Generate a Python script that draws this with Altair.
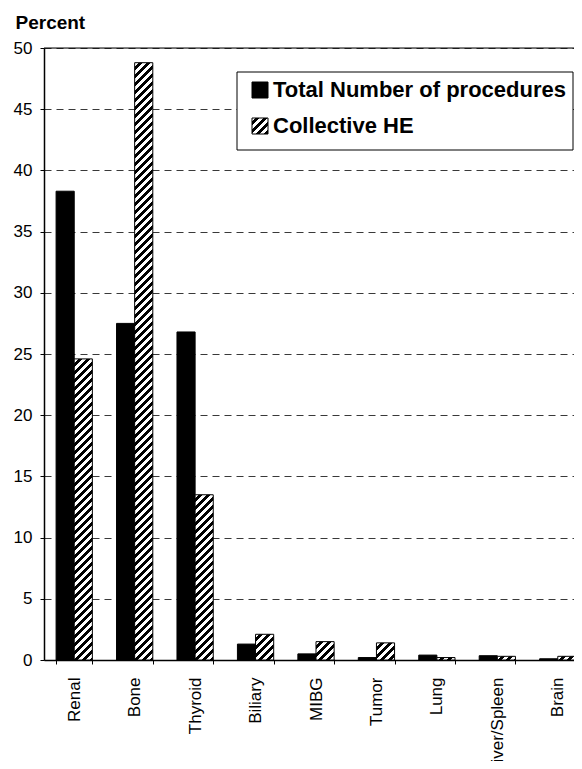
import altair as alt
import pandas as pd

# ---- data ----
categories = ["Renal", "Bone", "Thyroid", "Biliary", "MIBG", "Tumor", "Lung", "Liver/Spleen", "Brain"]
total_procedures = [38.3, 27.5, 26.8, 1.3, 0.5, 0.2, 0.4, 0.35, 0.1]
collective_he = [24.6, 48.8, 13.5, 2.1, 1.5, 1.4, 0.2, 0.3, 0.3]
series_names = ["Total Number of procedures", "Collective HE"]
y_ticks = [0, 5, 10, 15, 20, 25, 30, 35, 40, 45, 50]

# ---- layout / style ----
FONT = "Liberation Sans"
PAD_L, PAD_T, PAD_B = 36, 40, 101
W, H = 530, 612
X_RANGE = 544
Y_MAX = 50
STEP = X_RANGE / len(categories)
BAR_W = STEP * 0.6 / 2
PERIOD = 8.0      # hatch period (x+y units, px)
BLACK_FRAC = 0.5  # share of each period that is black

rows = []
for c, a, b in zip(categories, total_procedures, collective_he):
    rows.append({"category": c, "series": series_names[0], "value": a})
    rows.append({"category": c, "series": series_names[1], "value": b})
df = pd.DataFrame(rows)


def hatch(w, h):
    """Diagonal '/' stripes as a linear gradient in bounding-box units."""
    den = w * w + h * h
    x2 = w * (w + h) / den
    y2 = h * (w + h) / den
    n = max((w + h) / PERIOD, 1.0)
    stops = []
    k = 0
    while k < n:
        a = k / n
        m = min((k + 1 - BLACK_FRAC) / n, 1.0)
        e = min((k + 1) / n, 1.0)
        stops += [
            {"offset": a, "color": "white"},
            {"offset": m, "color": "white"},
            {"offset": m, "color": "black"},
            {"offset": e, "color": "black"},
        ]
        k += 1
    return {"gradient": "linear", "x1": 0, "y1": 0, "x2": x2, "y2": y2, "stops": stops}


x_enc = alt.X(
    "category:N",
    sort=categories,
    scale=alt.Scale(domain=categories, range=[0, X_RANGE], paddingInner=0.4, paddingOuter=0.2),
    axis=alt.Axis(
        title=None,
        labelAngle=-90,
        labelAlign="right",
        labelBaseline="middle",
        labelFont=FONT,
        labelFontSize=17,
        labelColor="black",
        labelPadding=13,
        ticks=True,
        tickSize=4,
        tickColor="black",
        tickBand="extent",
        domainColor="black",
        domainWidth=1.5,
        labelOverlap=False,
    ),
)
y_enc = alt.Y(
    "value:Q",
    scale=alt.Scale(domain=[0, Y_MAX], nice=False),
    axis=alt.Axis(
        values=y_ticks,
        title="Percent",
        titleAngle=0,
        titleAlign="left",
        titleBaseline="alphabetic",
        titleX=-29,
        titleY=-20,
        titleFont=FONT,
        titleFontSize=19,
        titleFontWeight="bold",
        titleColor="black",
        labelFont=FONT,
        labelFontSize=17,
        labelColor="black",
        labelPadding=8,
        tickSize=4,
        tickColor="black",
        domainColor="black",
        domainWidth=1.5,
        grid=True,
        gridColor="#222222",
        gridDash=[7, 5],
        gridWidth=0.9,
    ),
)
xoff = alt.XOffset("series:N", sort=series_names, scale=alt.Scale(domain=series_names))

base = alt.Chart(df).encode(x=x_enc, y=y_enc, xOffset=xoff)

layers = [
    base.transform_filter(alt.datum.series == series_names[0]).mark_bar(
        color="black", stroke="black", strokeWidth=1
    )
]
for c, v in zip(categories, collective_he):
    h = v * H / Y_MAX
    layers.append(
        base.transform_filter(
            (alt.datum.series == series_names[1]) & (alt.datum.category == c)
        ).mark_bar(fill=hatch(BAR_W, h), stroke="black", strokeWidth=1)
    )

one = pd.DataFrame({"k": [0]})
frame_top = alt.Chart(one).mark_rule(color="black", strokeWidth=1).encode(
    x=alt.value(0), x2=alt.value(X_RANGE + 2), y=alt.value(0)
)
legend_box = alt.Chart(one).mark_rect(fill="white", stroke="black", strokeWidth=1).encode(
    x=alt.value(193), x2=alt.value(529), y=alt.value(24), y2=alt.value(102)
)
legend_sq1 = alt.Chart(one).mark_rect(fill="black", stroke="black").encode(
    x=alt.value(208), x2=alt.value(224), y=alt.value(34), y2=alt.value(50)
)
legend_sq2 = alt.Chart(one).mark_rect(fill=hatch(16, 16), stroke="black", strokeWidth=1).encode(
    x=alt.value(208), x2=alt.value(224), y=alt.value(70), y2=alt.value(86)
)
legend_txt1 = alt.Chart(one).mark_text(
    font=FONT, fontSize=22, fontWeight="bold", align="left", baseline="middle", color="black",
    text=series_names[0],
).encode(x=alt.value(229), y=alt.value(42))
legend_txt2 = alt.Chart(one).mark_text(
    font=FONT, fontSize=22, fontWeight="bold", align="left", baseline="middle", color="black",
    text=series_names[1],
).encode(x=alt.value(229), y=alt.value(78))

chart = alt.layer(
    *layers, frame_top, legend_box, legend_sq1, legend_sq2, legend_txt1, legend_txt2
).properties(
    width=W,
    height=H,
    autosize=alt.AutoSizeParams(type="none"),
    padding={"left": PAD_L, "top": PAD_T, "right": 0, "bottom": PAD_B},
).configure_view(stroke=None).configure(background="white")

chart.save("out.html", embed_options={"renderer": "svg", "actions": False})
